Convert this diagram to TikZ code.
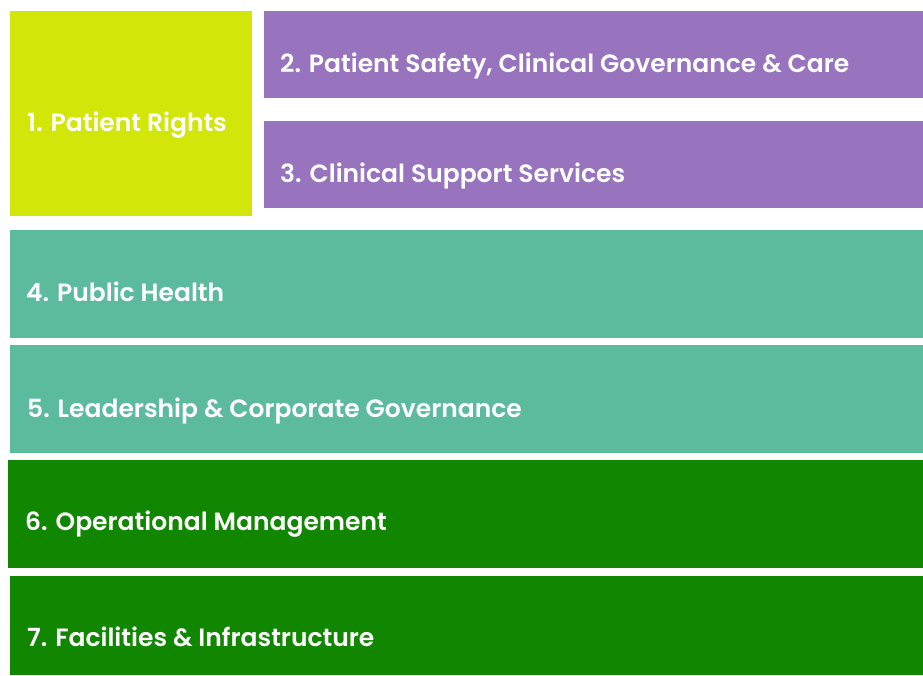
\documentclass[tikz,border=0pt]{standalone}
\usepackage{fontspec}
\setmainfont{Poppins}[BoldFont={Poppins SemiBold}]
\definecolor{lime}{HTML}{D3E60A}
\definecolor{violet}{HTML}{9874BF}
\definecolor{teal}{HTML}{5DBB9D}
\definecolor{leaf}{HTML}{118600}
\tikzset{
  box/.style={draw=none, inner sep=0pt, outer sep=0pt, anchor=north west},
  lbl/.style={anchor=base west, inner sep=0pt, text=white, font=\fontsize{25}{27}\selectfont\bfseries}
}
\begin{document}
\begin{tikzpicture}[x=1pt,y=-1pt]
\useasboundingbox (0,0) rectangle (923,675);
\node[box, fill=lime, minimum width=242pt, minimum height=205pt] (b1) at (10,11) {};
\node[box, fill=violet, minimum width=659pt, minimum height=87pt] (b2) at (264,11) {};
\node[box, fill=violet, minimum width=659pt, minimum height=87pt] (b3) at (264,121) {};
\node[box, fill=teal, minimum width=913pt, minimum height=108pt] (b4) at (10,230) {};
\node[box, fill=teal, minimum width=913pt, minimum height=108pt] (b5) at (10,345) {};
\node[box, fill=leaf, minimum width=915pt, minimum height=108pt] (b6) at (8,460) {};
\node[box, fill=leaf, minimum width=913pt, minimum height=99pt] (b7) at (10,576) {};
\node[lbl] (t1) at (27,131) {1. Patient Rights};
\node[lbl] (t2) at (280,72) {2. Patient Safety, Clinical Governance \& Care};
\node[lbl] (t3) at (280,182) {3. Clinical Support Services};
\node[lbl] (t4) at (26,301) {4. Public Health};
\node[lbl] (t5) at (27,417) {5. Leadership \& Corporate Governance};
\node[lbl] (t6) at (25,530) {6. Operational Management};
\node[lbl] (t7) at (27,646) {7. Facilities \& Infrastructure};
\end{tikzpicture}
\end{document}
